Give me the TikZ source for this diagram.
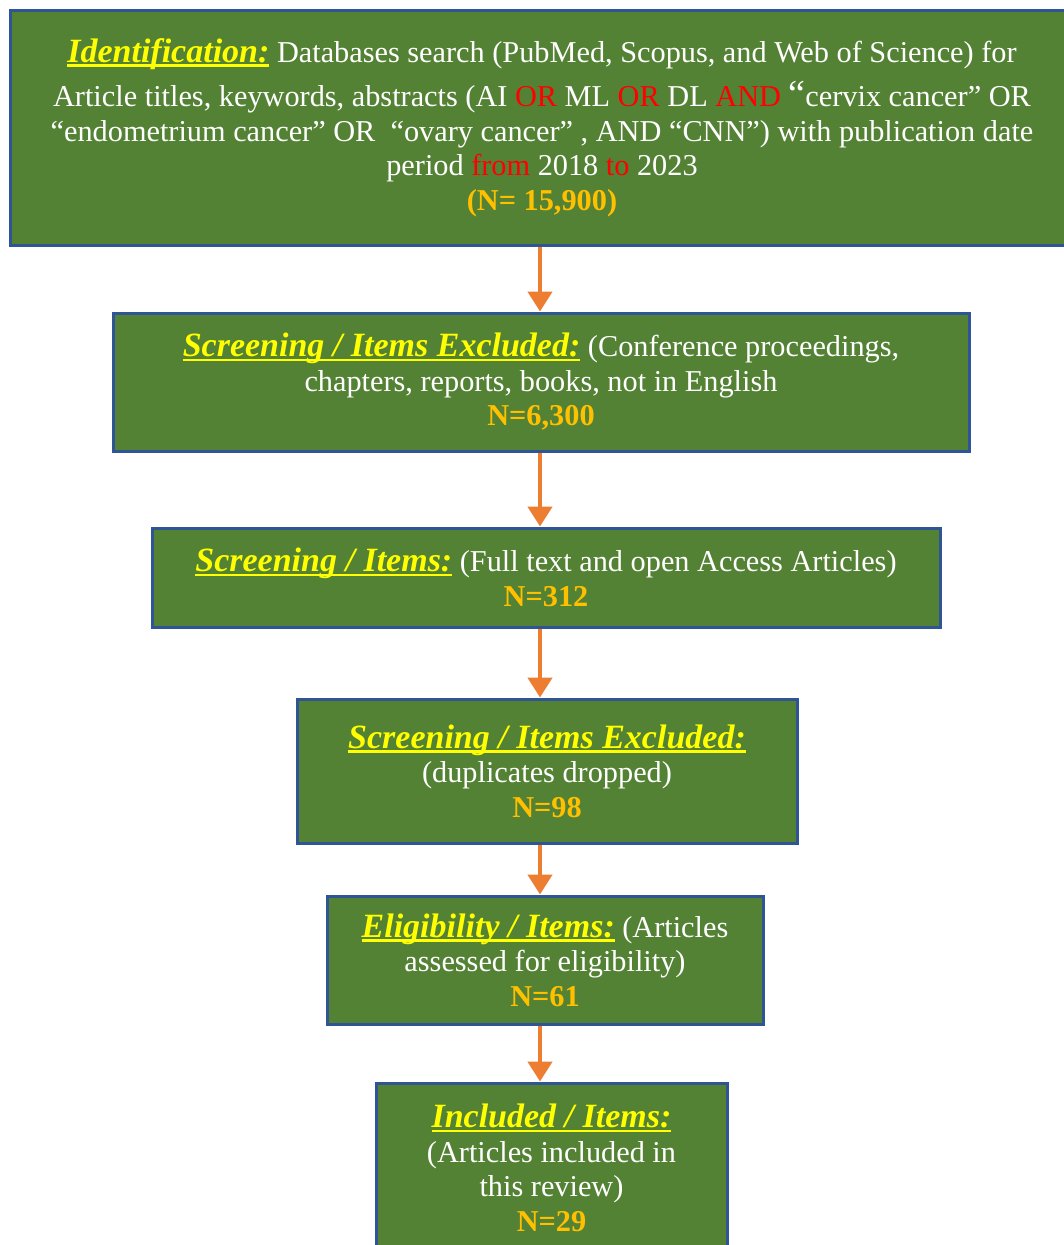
\documentclass[tikz,border=0pt]{standalone}
\usepackage{fontspec}
\setmainfont{Liberation Serif}
\usetikzlibrary{arrows.meta}
\definecolor{boxgreen}{HTML}{548235}
\definecolor{boxblue}{HTML}{2F5597}
\definecolor{arrorange}{HTML}{ED7D31}
\definecolor{hdryellow}{HTML}{FFFF00}
\definecolor{numgold}{HTML}{FFC000}
\definecolor{kwred}{HTML}{FF0000}
\newcommand\hdrtxt[1]{\sbox0{\fontsize{34}{35}\selectfont\bfseries\itshape\color{hdryellow}#1}\rlap{\color{hdryellow}\rule[-4.5pt]{\wd0}{2.4pt}}\box0\relax}
\newcommand\kw[1]{\textcolor{kwred}{#1}}
\newcommand\numtxt[1]{\textbf{\textcolor{numgold}{#1}}}
\begin{document}
\begin{tikzpicture}[x=1pt,y=-1pt,
  flowbox/.style={draw=boxblue, line width=3pt, fill=boxgreen, text=white, align=center, inner sep=0pt, font=\fontsize{30.3}{34.5}\selectfont},
  arr/.style={draw=arrorange, line width=4.5pt, -{Triangle[width=24pt,length=20pt]}}]
\useasboundingbox (0,0) rectangle (1064,1245);
\clip (0,0) rectangle (1064,1245);
\fill[white] (0,0) rectangle (1064,1245);
\coordinate (ax) at (540,0);
\node[flowbox, minimum width=1064pt, minimum height=235pt] (b1) at (542,127.5)
  {\hdrtxt{Identification:} Databases search (PubMed, Scopus, and Web of Science) for\\[10pt]
   Article titles, keywords, abstracts (AI \kw{OR} ML \kw{OR} DL \kw{AND} {\fontsize{38}{34}\selectfont “}cervix cancer” OR\\
   “endometrium cancer” OR ~“ovary cancer” , AND “CNN”) with publication date\\
   period \kw{from} 2018 \kw{to} 2023\\
   \numtxt{(N= 15,900)}};
\node[flowbox, minimum width=856pt, minimum height=138pt] (b2) at (541,382)
  {\hdrtxt{Screening / Items Excluded:} (Conference proceedings,\\
   chapters, reports, books, not in English\\
   \numtxt{N=6,300}};
\node[flowbox, minimum width=788pt, minimum height=99pt] (b3) at (546,577.5)
  {\hdrtxt{Screening / Items:} (Full text and open Access Articles)\\
   \numtxt{N=312}};
\node[flowbox, minimum width=500pt, minimum height=144pt] (b4) at (547,771)
  {\hdrtxt{Screening / Items Excluded:}\\
   (duplicates dropped)\\
   \numtxt{N=98}};
\node[flowbox, minimum width=436pt, minimum height=128pt] (b5) at (545,960)
  {\hdrtxt{Eligibility / Items:} (Articles\\
   assessed for eligibility)\\
   \numtxt{N=61}};
\node[flowbox, minimum width=351pt, minimum height=170pt] (b6) at (551.5,1168)
  {\hdrtxt{Included / Items:}\\
   (Articles included in\\
   this review)\\
   \numtxt{N=29}};
\draw[arr] (b1.south -| ax) -- (b2.north -| ax);
\draw[arr] (b2.south -| ax) -- (b3.north -| ax);
\draw[arr] (b3.south -| ax) -- (b4.north -| ax);
\draw[arr] (b4.south -| ax) -- (b5.north -| ax);
\draw[arr] (b5.south -| ax) -- (b6.north -| ax);
\end{tikzpicture}
\end{document}
